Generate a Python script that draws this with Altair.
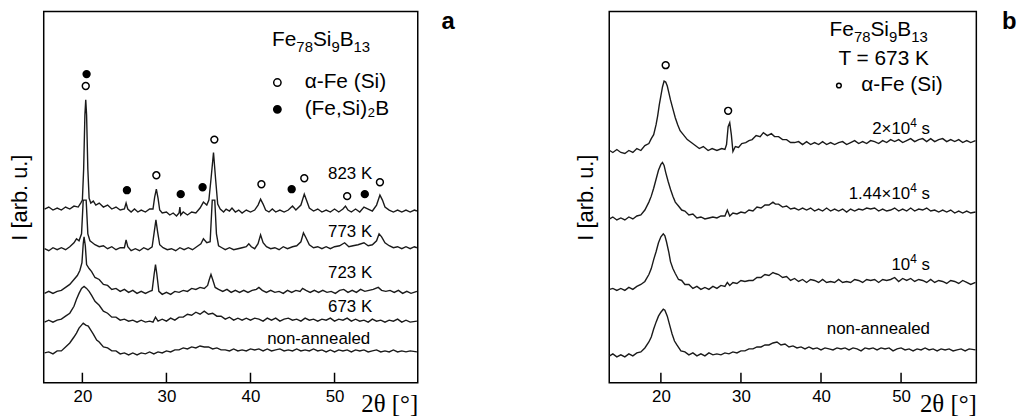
import altair as alt
import pandas as pd

FONT = "Liberation Sans"
SERIF = "Liberation Serif"
W_A, W_B, H = 377, 370, 374
Y_DOM = [0, 374]

# ---------------- Panel a: Fe78Si9B13, isochronal annealing ----------------
A_CURVES = ["823 K", "773 K", "723 K", "673 K", "non-annealed"]

A_823 = [(15.5,175),(16.0,177),(16.5,174),(17.0,176),(17.5,174),(18.0,177),(18.5,175),(19.0,178),(19.5,177),
         (19.8,181),(20.0,184),(20.15,215),(20.3,270),(20.4,285),(20.5,270),(20.65,215),(20.8,186),(21.0,181),
         (21.3,183),(21.6,179),(22.0,181),(22.5,177),(23.0,179),(23.5,175),(24.0,177),(24.5,174),(25.0,175),
         (25.2,181),(25.4,175),(25.8,172),(26.2,175),(26.6,172),(27.0,174),(27.5,172),(28.0,175),(28.4,175),
         (28.6,187),(28.8,195),(29.0,186),(29.2,174),(29.5,171),(30.0,172),(30.4,169),(30.8,171),(31.2,168),
         (31.5,171),(31.6,177),(31.7,169),(32.0,172),(32.5,169),(33.0,172),(33.5,171),(34.0,176),(34.4,182),
         (34.8,179),(35.05,184),(35.3,205),(35.6,232),(35.85,205),(36.1,180),(36.4,175),(36.8,172),(37.1,175),
         (37.5,173),(37.8,176),(38.2,172),(38.6,174),(39.0,171),(39.5,174),(40.0,172),(40.5,174),(40.9,179),
         (41.2,185),(41.5,180),(41.8,174),(42.2,172),(42.6,175),(43.0,172),(43.5,174),(44.0,172),(44.5,174),
         (45.0,178),(45.4,174),(46.0,179),(46.4,190),(46.7,183),(47.0,176),(47.5,173),(48.0,175),(48.5,172),
         (49.0,174),(49.5,172),(50.0,175),(50.5,172),(51.0,175),(51.3,178),(51.6,174),(52.0,172),(52.5,175),
         (53.0,172),(53.5,177),(54.0,175),(54.5,173),(55.0,179),(55.4,189),(55.7,184),(56.0,177),(56.5,174),
         (57.0,172),(57.5,174),(58.0,172),(58.5,174),(59.0,172),(59.5,174),(59.8,173)]

A_773 = [(15.5,135),(16.0,133),(16.5,136),(17.0,134),(17.5,136),(18.0,134),(18.5,137),(19.0,141),(19.3,145),
         (19.6,143),(19.9,150),(20.1,184),(20.45,184),(20.65,150),(20.9,143),(21.2,141),(21.5,139),(22.0,137),
         (22.5,138),(23.0,135),(23.5,137),(24.0,134),(24.5,136),(25.0,136),(25.2,144),(25.4,137),(25.8,133),
         (26.3,135),(26.8,133),(27.3,136),(27.8,134),(28.3,137),(28.55,152),(28.75,164),(28.95,152),(29.2,139),
         (29.6,136),(30.1,134),(30.6,135),(31.1,133),(31.6,136),(32.1,134),(32.6,136),(33.1,134),(33.6,137),
         (34.1,140),(34.4,145),(34.8,141),(35.2,142),(35.45,184),(35.75,184),(35.95,150),(36.2,138),(36.6,136),
         (37.0,134),(37.5,136),(38.0,134),(38.5,135),(39.0,136),(39.5,137),(39.8,140),(40.1,137),(40.5,135),
         (40.9,140),(41.2,149),(41.5,141),(41.9,137),(42.4,135),(42.9,136),(43.4,134),(43.9,137),(44.4,135),
         (45.0,137),(45.5,138),(46.0,142),(46.3,151),(46.6,146),(47.0,139),(47.5,136),(48.0,137),(48.5,135),
         (49.0,137),(49.5,135),(50.0,137),(50.6,138),(51.2,141),(51.7,137),(52.2,138),(52.8,139),(53.5,141),
         (54.0,138),(54.5,139),(55.0,143),(55.3,150),(55.6,147),(56.0,141),(56.5,138),(57.0,136),(57.5,137),
         (58.0,135),(58.5,137),(59.0,135),(59.5,137),(59.8,136)]

A_723 = [(15.5,90),(16.0,92),(16.5,90),(17.0,92),(17.5,93),(18.0,96),(18.5,99),(19.0,104),(19.4,108),
         (19.7,113),(19.95,121),(20.1,140),(20.2,147),(20.35,138),(20.5,119),(20.8,115),(21.1,112),(21.5,106),
         (22.0,104),(22.5,99),(23.0,98),(23.5,94),(24.0,95),(24.5,92),(25.0,94),(25.5,91),(26.0,93),(26.5,90),
         (27.0,92),(27.5,90),(28.0,92),(28.3,93),(28.55,110),(28.7,119),(28.85,110),(29.1,92),(29.5,89),
         (30.0,91),(30.5,89),(31.0,92),(31.5,91),(32.0,93),(32.5,92),(33.0,95),(33.5,94),(34.0,96),(34.5,95),
         (34.9,98),(35.1,104),(35.3,109),(35.5,104),(35.8,96),(36.2,94),(36.7,92),(37.2,94),(37.7,91),
         (38.2,93),(38.7,91),(39.2,93),(39.7,91),(40.2,93),(40.7,94),(41.0,96),(41.4,93),(41.9,91),(42.4,93),
         (42.9,91),(43.4,92),(43.9,90),(44.4,93),(44.9,91),(45.4,93),(45.9,92),(46.2,95),(46.6,93),(47.1,91),
         (47.6,93),(48.1,91),(48.6,93),(49.1,91),(49.6,92),(50.1,90),(50.6,93),(51.1,94),(51.6,91),(52.1,93),
         (52.6,91),(53.1,94),(53.6,92),(54.1,93),(54.6,94),(55.2,96),(55.6,93),(56.1,92),(56.6,93),(57.1,91),
         (57.6,93),(58.1,90),(58.6,92),(59.1,90),(59.8,92)]

A_673 = [(15.5,61),(16.0,63),(16.5,61),(17.0,63),(17.5,64),(18.0,67),(18.5,70),(19.0,77),(19.3,84),
         (19.6,90),(19.9,95),(20.2,97),(20.5,95),(20.8,92),(21.1,88),(21.5,82),(22.0,78),(22.5,72),(23.0,70),
         (23.5,66),(24.0,66),(24.5,63),(25.0,64),(25.5,62),(26.0,63),(26.5,61),(27.0,63),(27.5,61),(28.0,62),
         (28.4,61),(28.7,66),(29.0,62),(29.5,64),(30.0,62),(30.5,65),(31.0,63),(31.5,66),(32.0,66),(32.5,69),
         (33.0,68),(33.5,71),(34.0,69),(34.5,72),(35.0,69),(35.5,70),(36.0,67),(36.5,67),(37.0,64),(37.5,66),
         (38.0,63),(38.5,65),(39.0,63),(39.5,65),(40.0,63),(40.5,65),(41.0,64),(41.5,62),(42.0,65),(42.5,63),
         (43.0,65),(43.5,62),(44.0,64),(44.5,65),(45.0,63),(45.5,64),(46.0,62),(46.5,65),(47.0,63),(47.5,64),
         (48.0,62),(48.5,64),(49.0,63),(49.5,65),(50.0,62),(50.5,64),(51.0,63),(51.5,65),(52.0,62),(52.5,64),
         (53.0,62),(53.5,63),(54.0,61),(54.5,64),(55.0,62),(55.5,63),(56.0,61),(56.5,63),(57.0,62),(57.5,64),
         (58.0,61),(58.5,63),(59.0,61),(59.8,62)]

A_NON = [(15.5,30),(16.0,31),(16.5,29),(17.0,32),(17.5,32),(18.0,36),(18.5,40),(19.0,46),(19.3,50),
         (19.6,55),(19.9,58),(20.1,60),(20.4,58),(20.7,57),(21.0,53),(21.3,49),(21.7,43),(22.0,41),(22.5,36),
         (23.0,35),(23.5,32),(24.0,32),(24.5,29),(25.0,30),(25.5,28),(26.0,30),(26.5,28),(27.0,30),(27.5,29),
         (28.0,31),(28.5,29),(29.0,31),(29.5,30),(30.0,32),(30.5,31),(31.0,33),(31.5,33),(32.0,35),(32.5,34),
         (33.0,36),(33.5,35),(34.0,37),(34.5,36),(35.0,36),(35.5,34),(36.0,35),(36.5,33),(37.0,33),(37.5,32),
         (38.0,34),(38.5,32),(39.0,33),(39.5,32),(40.0,34),(40.5,33),(41.0,34),(41.5,32),(42.0,34),(42.5,32),
         (43.0,33),(43.5,34),(44.0,32),(44.5,33),(45.0,32),(45.5,34),(46.0,32),(46.5,33),(47.0,32),(47.5,34),
         (48.0,32),(48.5,33),(49.0,31),(49.5,33),(50.0,31),(50.5,33),(51.0,32),(51.5,33),(52.0,31),(52.5,33),
         (53.0,32),(53.5,33),(54.0,31),(54.5,32),(55.0,33),(55.5,31),(56.0,32),(56.5,31),(57.0,33),(57.5,31),
         (58.0,32),(58.5,31),(59.0,32),(59.8,31)]

A_OPEN = [(20.4,299),(28.8,209),(35.7,245),(41.3,200),(46.4,206),(51.5,188),(55.4,202)]
A_FILLED = [(20.5,311),(25.3,194),(31.7,190),(34.3,197),(44.9,195),(53.6,190)]

# ---------------- Panel b: isothermal annealing at 673 K ----------------
B_CURVES = ["2×10⁴ s", "1.44×10⁴ s", "10⁴ s", "non-annealed"]
B_CURVE_PARTS = [[("2×10", "n"), ("4", "sup"), (" s", "n")],
                 [("1.44×10", "n"), ("4", "sup"), (" s", "n")],
                 [("10", "n"), ("4", "sup"), (" s", "n")],
                 [("non-annealed", "n")]]

B_2E4 = [(13.6,234),(14.0,232),(14.5,235),(15.0,232),(15.5,231),(16.0,234),(16.5,232),(17.0,236),(17.5,234),
         (18.0,239),(18.5,241),(18.8,246),(19.1,250),(19.4,260),(19.6,269),(19.8,280),(20.0,289),(20.2,298),
         (20.4,304),(20.6,303),(20.8,299),(21.0,292),(21.2,285),(21.5,276),(21.8,267),(22.1,260),(22.4,254),
         (22.8,250),(23.3,245),(23.8,242),(24.3,239),(24.8,236),(25.3,238),(25.9,234),(26.4,236),(27.0,234),
         (27.6,236),(28.0,235),(28.2,240),(28.4,258),(28.6,262),(28.8,250),(29.0,233),(29.3,238),(29.7,237),
         (30.1,241),(30.6,242),(31.0,244),(31.4,245),(31.9,249),(32.4,248),(32.8,252),(33.3,249),(33.8,251),
         (34.2,248),(34.7,248),(35.2,245),(35.7,245),(36.2,242),(36.7,242),(37.2,243),(37.7,240),(38.2,243),
         (38.7,240),(39.2,242),(39.7,240),(40.2,243),(40.7,240),(41.2,242),(41.7,240),(42.2,242),(42.7,243),
         (43.2,240),(43.7,242),(44.2,244),(44.7,241),(45.2,243),(45.7,241),(46.2,244),(46.7,243),(47.2,241),
         (47.7,244),(48.2,242),(48.7,245),(49.2,243),(49.7,245),(50.2,242),(50.7,244),(51.2,246),(51.7,243),
         (52.2,245),(52.7,246),(53.2,243),(53.7,246),(54.2,243),(54.7,245),(55.2,246),(55.7,243),(56.2,245),
         (56.7,243),(57.2,245),(57.7,242),(58.2,244),(58.7,242),(59.3,244)]

B_144 = [(13.6,165),(14.0,167),(14.5,164),(15.0,166),(15.5,164),(16.0,167),(16.5,165),(17.0,168),(17.5,169),
         (18.0,174),(18.5,182),(18.8,188),(19.1,196),(19.4,205),(19.7,214),(20.0,220),(20.2,222),(20.4,219),
         (20.6,212),(20.9,203),(21.2,195),(21.5,188),(21.8,182),(22.2,178),(22.6,174),(23.0,173),(23.5,169),
         (24.0,170),(24.5,166),(25.0,167),(25.5,165),(26.0,166),(26.5,167),(27.0,166),(27.5,168),(28.0,168),
         (28.3,174),(28.6,168),(29.0,171),(29.5,170),(30.0,172),(30.5,171),(31.0,174),(31.5,173),(32.0,177),
         (32.5,176),(33.0,179),(33.5,179),(34.0,182),(34.3,180),(34.7,180),(35.2,177),(35.7,178),(36.2,175),
         (36.7,176),(37.2,174),(37.7,176),(38.2,174),(38.7,176),(39.2,173),(39.7,175),(40.2,173),(40.7,176),
         (41.2,173),(41.7,175),(42.2,173),(42.7,175),(43.2,172),(43.7,175),(44.2,173),(44.7,175),(45.2,174),
         (45.7,176),(46.2,175),(46.7,176),(47.2,173),(47.7,175),(48.2,173),(48.7,174),(49.2,176),(49.7,173),
         (50.2,175),(50.7,173),(51.2,176),(51.7,173),(52.2,175),(52.7,174),(53.2,176),(53.7,173),(54.2,174),
         (54.7,172),(55.2,174),(55.7,172),(56.2,174),(56.7,171),(57.2,173),(57.7,171),(58.2,173),(58.7,171),
         (59.3,172)]

B_1E4 = [(13.6,94),(14.0,95),(14.5,93),(15.0,95),(15.5,93),(16.0,96),(16.5,94),(17.0,97),(17.5,99),
         (18.0,102),(18.5,109),(18.8,115),(19.1,124),(19.4,132),(19.7,141),(20.0,147),(20.3,150),(20.5,148),
         (20.7,142),(21.0,131),(21.2,122),(21.5,115),(21.8,110),(22.2,104),(22.6,103),(23.0,99),(23.5,99),
         (24.0,95),(24.5,97),(25.0,94),(25.5,96),(26.0,94),(26.5,97),(27.0,95),(27.5,98),(28.0,97),(28.3,101),
         (28.6,98),(29.0,101),(29.5,100),(30.0,103),(30.5,102),(31.0,103),(31.5,103),(32.0,106),(32.5,106),
         (33.0,109),(33.5,108),(34.0,111),(34.3,110),(34.7,109),(35.2,106),(35.7,107),(36.2,103),(36.7,105),
         (37.2,102),(37.7,104),(38.2,101),(38.7,104),(39.2,103),(39.7,101),(40.2,104),(40.7,101),(41.2,102),
         (41.7,101),(42.2,104),(42.7,101),(43.2,102),(43.7,101),(44.2,104),(44.7,103),(45.2,101),(45.7,104),
         (46.2,103),(46.7,104),(47.2,101),(47.7,104),(48.2,103),(48.7,104),(49.2,106),(49.7,102),(50.2,105),
         (50.7,103),(51.2,105),(51.7,102),(52.2,104),(52.7,103),(53.2,101),(53.7,104),(54.2,101),(54.7,103),
         (55.2,102),(55.7,100),(56.2,103),(56.7,102),(57.2,100),(57.7,103),(58.2,101),(58.7,99),(59.3,101)]

B_NON = [(13.6,27),(14.0,29),(14.5,26),(15.0,28),(15.5,26),(16.0,29),(16.5,27),(17.0,30),(17.5,31),
         (18.0,35),(18.5,41),(18.8,46),(19.1,54),(19.4,61),(19.7,67),(20.0,71),(20.3,74),(20.5,73),(20.8,67),
         (21.1,58),(21.4,49),(21.7,42),(22.0,38),(22.5,32),(23.0,31),(23.5,28),(24.0,30),(24.5,27),(25.0,29),
         (25.5,27),(26.0,30),(26.5,28),(27.0,29),(27.5,28),(28.0,30),(28.5,29),(29.0,31),(29.5,30),(30.0,32),
         (30.5,32),(31.0,34),(31.5,34),(32.0,36),(32.5,36),(33.0,38),(33.5,38),(34.0,40),(34.5,41),(35.0,38),
         (35.5,39),(36.0,36),(36.5,37),(37.0,35),(37.5,36),(38.0,34),(38.5,36),(39.0,34),(39.5,35),(40.0,33),
         (40.5,35),(41.0,34),(41.5,33),(42.0,35),(42.5,34),(43.0,35),(43.5,33),(44.0,35),(44.5,34),(45.0,32),
         (45.5,35),(46.0,34),(46.5,35),(47.0,33),(47.5,35),(48.0,34),(48.5,35),(49.0,32),(49.5,34),(50.0,35),
         (50.5,33),(51.0,34),(51.5,32),(52.0,34),(52.5,33),(53.0,35),(53.5,33),(54.0,34),(54.5,32),(55.0,34),
         (55.5,33),(56.0,34),(56.5,32),(57.0,33),(57.5,34),(58.0,32),(58.5,34),(59.3,33)]

B_OPEN = [(20.6,320),(28.4,274)]

TICKS = [20, 30, 40, 50]
PHASES = ["α-Fe (Si)", "(Fe,Si)₂B"]
ALLOY_PARTS = [("Fe", "n"), ("78", "sub"), ("Si", "n"), ("9", "sub"), ("B", "n"), ("13", "sub")]

# Arial / Liberation Sans advance widths (em) used to lay out sub/superscript text runs
EM = {"0": .556, "1": .556, "2": .556, "3": .556, "4": .556, "5": .556, "6": .556, "7": .556,
      "8": .556, "9": .556, "F": .611, "e": .556, "S": .667, "i": .222, "B": .667, ".": .278,
      "×": .584, " ": .278, "s": .5, "n": .556, "o": .556, "-": .333, "a": .556, "l": .222, "d": .556}


def curves_df(names, curves):
    rows = []
    for name, pts in zip(names, curves):
        for x, y in pts:
            rows.append({"x": x, "y": y, "curve": name})
    return pd.DataFrame(rows)


def markers_df(groups):
    rows = []
    for phase, pts in groups:
        for x, y in pts:
            rows.append({"x": x, "y": y, "phase": phase})
    return pd.DataFrame(rows)


def rich_text(xs, ys, x, y, parts, size, small, align):
    sizes = [size if k == "n" else small for _, k in parts]
    widths = [sum(EM.get(c, .556) for c in t) * s for (t, _), s in zip(parts, sizes)]
    total = sum(widths)
    off = {"left": 0, "center": -total / 2, "right": -total}[align]
    layers = []
    for (t, k), s, w in zip(parts, sizes, widths):
        lead = len(t) - len(t.lstrip(" "))
        dx = off + lead * EM[" "] * s
        dy = {"n": 0, "sub": round(size * 0.27), "sup": -round(size * 0.42)}[k]
        df = pd.DataFrame({"x": [x], "y": [y], "text": [t.strip()]})
        layers.append(alt.Chart(df).mark_text(font=FONT, fontSize=s, align="left",
                                              baseline="alphabetic", color="black",
                                              dx=dx, dy=dy).encode(
            x=alt.X("x:Q", scale=xs), y=alt.Y("y:Q", scale=ys), text="text:N"))
        off += w
    return layers


def panel(width, xdom, lines_df, marks_df, phase_domain, phase_range, legend_cfg,
          rich_items, letter_xy, letter):
    xs = alt.Scale(domain=xdom, nice=False, zero=False)
    ys = alt.Scale(domain=Y_DOM, nice=False, zero=False)
    x_axis = alt.Axis(values=TICKS, ticks=False, domain=False, grid=False,
                      labelFont=FONT, labelFontSize=17, labelColor="black", labelPadding=6,
                      title="2θ [°]", titleFont=SERIF, titleFontSize=25, titleFontWeight="normal",
                      titleColor="black", titleAlign="right", titleAnchor="end",
                      titleBaseline="alphabetic", titleX=width, titleY=29)
    y_axis = alt.Axis(labels=False, ticks=False, domain=False, grid=False,
                      title="I [arb. u.]", titleFont=FONT, titleFontSize=22,
                      titleFontWeight="normal", titleColor="black", titlePadding=12)

    lines = alt.Chart(lines_df).mark_line(color="#1a1a1a", strokeWidth=1.4).encode(
        x=alt.X("x:Q", scale=xs, axis=x_axis),
        y=alt.Y("y:Q", scale=ys, axis=y_axis),
        detail="curve:N",
    )
    tick_df = pd.DataFrame({"t": TICKS, "y0": [Y_DOM[0]] * len(TICKS), "y1": [Y_DOM[0] + 10] * len(TICKS)})
    ticks = alt.Chart(tick_df).mark_rule(color="black", strokeWidth=1.5).encode(
        x=alt.X("t:Q", scale=xs),
        y=alt.Y("y0:Q", scale=ys), y2="y1:Q",
    )
    pts = alt.Chart(marks_df).mark_point(shape="circle", size=48, stroke="black", strokeWidth=1.5,
                                          opacity=1, fillOpacity=1).encode(
        x=alt.X("x:Q", scale=xs),
        y=alt.Y("y:Q", scale=ys),
        fill=alt.Fill("phase:N", scale=alt.Scale(domain=phase_domain, range=phase_range),
                      legend=alt.Legend(**legend_cfg)),
    )
    texts = []
    for (x, y, parts, size, small, align) in rich_items:
        texts += rich_text(xs, ys, x, y, parts, size, small, align)
    let_df = pd.DataFrame({"x": [letter_xy[0]], "y": [letter_xy[1]], "text": [letter]})
    let = alt.Chart(let_df).mark_text(font=FONT, fontSize=24, fontWeight="bold", align="center",
                                      baseline="alphabetic", color="black").encode(
        x=alt.X("x:Q", scale=xs), y=alt.Y("y:Q", scale=ys), text="text:N")
    return alt.layer(lines, ticks, pts, *texts, let).properties(width=width, height=H)


legend_common = dict(title=None, orient="none", symbolType="circle", symbolStrokeColor="black",
                     symbolStrokeWidth=1.5, symbolOpacity=1, labelFont=FONT, labelFontSize=21,
                     labelColor="black", padding=0)

a_items = [(54.25, y, [(name, "n")], 17, 12, "right")
           for name, y in zip(A_CURVES, [205, 147, 105, 71, 39])]
a_items.append((48.4, 339, ALLOY_PARTS, 21, 15, "center"))

b_items = [(53.6, y, parts, 17, 12, "right")
           for parts, y in zip(B_CURVE_PARTS, [251, 185, 114, 49])]
b_items.append((47.2, 349, ALLOY_PARTS, 21, 15, "center"))
b_items.append((47.6, 320, [("T = 673 K", "n")], 21, 15, "center"))

chart_a = panel(
    W_A, [15.4, 59.9],
    curves_df(A_CURVES, [A_823, A_773, A_723, A_673, A_NON]),
    markers_df([(PHASES[0], A_OPEN), (PHASES[1], A_FILLED)]),
    PHASES, ["white", "black"],
    dict(legend_common, legendX=225, legendY=61, symbolSize=55, labelOffset=17, rowPadding=5),
    a_items, (63.5, 356), "a",
)

chart_b = panel(
    W_B, [13.55, 59.4],
    curves_df(B_CURVES, [B_2E4, B_144, B_1E4, B_NON]),
    markers_df([(PHASES[0], B_OPEN)]),
    PHASES[:1], ["white"],
    dict(legend_common, legendX=221, legendY=64, symbolSize=22, labelOffset=12, rowPadding=5),
    b_items, (63.5, 356), "b",
)

chart = alt.hconcat(chart_a, chart_b, spacing=193, bounds="flush").resolve_scale(
    x="independent", y="independent", fill="independent"
).resolve_legend(fill="independent").properties(
    padding={"left": 0, "top": 0, "right": 0, "bottom": 0}
).configure(
    font=FONT, view=alt.ViewConfig(stroke="black", strokeWidth=1.5)
)

chart.save("out.html", embed_options={"renderer": "svg", "actions": False})
